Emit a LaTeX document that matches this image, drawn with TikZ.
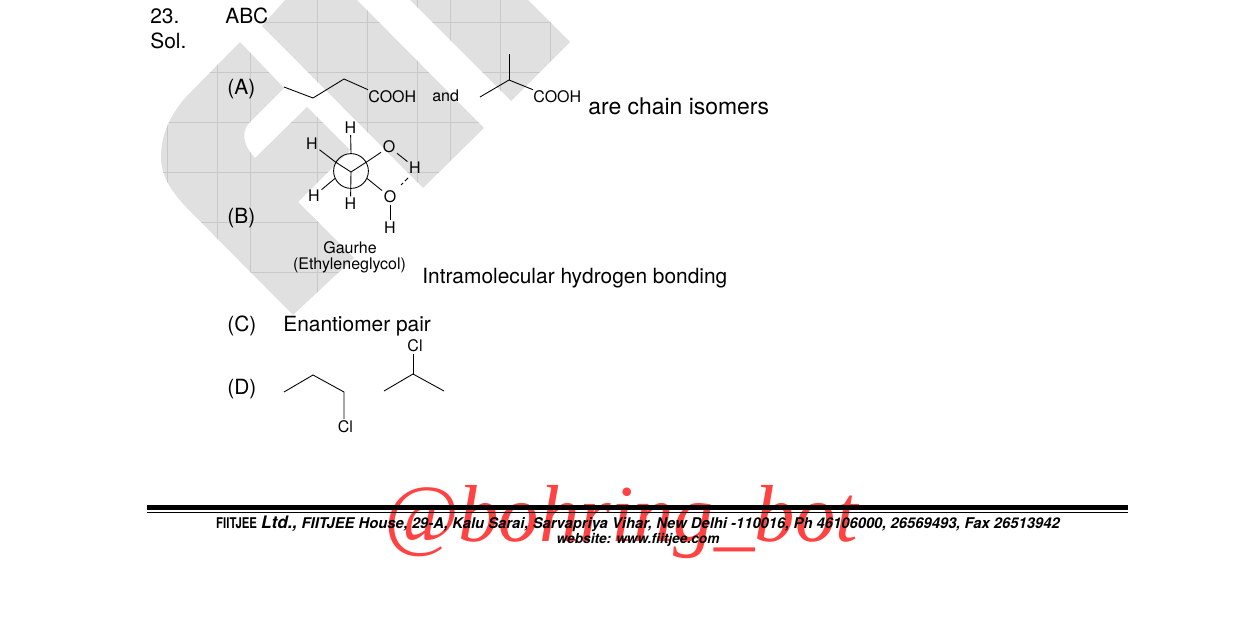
\documentclass[tikz,border=0pt]{standalone}
\usepackage{fontspec}
\setmainfont{TeX Gyre Heros}
\newfontfamily\markfont{Liberation Serif}
\usetikzlibrary{positioning}
\definecolor{markgray}{RGB}{224,224,224}
\definecolor{gridgray}{RGB}{200,200,200}
\definecolor{botred}{RGB}{255,66,66}
\tikzset{
    plain/.style={inner sep=0pt, font=\fontsize{11.9}{13}\selectfont},
    chem/.style={inner sep=0.8pt, font=\fontsize{9.1}{10}\selectfont},
    bond/.style={line width=0.5pt},
    foot/.style={inner sep=0pt, font=\fontsize{8.42}{9}\selectfont\bfseries\itshape},
}
\begin{document}
\begin{tikzpicture}[x=0.02cm,y=-0.02cm]
    \useasboundingbox (0,0) rectangle (1238,622);

    % Marca de agua
    \def\markshape{
        (240,42) -- (284,88) -- (250,122) .. controls (242,130) and (241,143) .. (255,158)
        -- (307,107) -- (350,150) -- (298,202)
        -- (354,258) -- (293,315) -- (186,207)
        .. controls (170,190) and (161,175) .. (161,157)
        .. controls (161,135) and (170,115) .. (186,97) -- cycle
        (285,0) -- (262,26) -- (423,188) -- (484,128) -- (357,0) -- cycle
        (410,0) -- (511,101) -- (570,42) -- (528,0) -- cycle
    }
    \fill[markgray] \markshape;
    \begin{scope}
        \clip \markshape;
        \foreach \x in {167,217,250,317,367,417,450,500,550} {
            \draw[gridgray, line width=0.3pt] (\x,0) -- (\x,330);
        }
        \foreach \y in {22,72,122,172,222,272} {
            \draw[gridgray, line width=0.3pt] (150,\y) -- (580,\y);
        }
    \end{scope}

    % Encabezado
    \node[plain, anchor=base west] (num) at (150,24) {23.};
    \node[plain, anchor=base west] (ans) at (225,24) {ABC};
    \node[plain, anchor=base west] (sol) at (150,49) {Sol.};
    \node[plain, anchor=base west] (opta) at (227,94) {(A)};
    \node[plain, anchor=base west] (optb) at (227,223) {(B)};
    \node[plain, anchor=base west] (optc) at (227,331) {(C)};
    \node[plain, anchor=base west] (optd) at (227,394) {(D)};

    % Isomeros de cadena
    \node[chem, inner sep=0pt, anchor=base west] (cooha) at (368,102) {COOH};
    \node[chem, inner sep=0pt, anchor=base west] (andw) at (432,101) {and};
    \node[chem, inner sep=0pt, anchor=base west] (coohb) at (533,102) {COOH};
    \node[plain, font=\fontsize{13.05}{14}\selectfont, anchor=base west] (chain) at (588,114) {are chain isomers};
    \coordinate (a1) at (284,87);
    \coordinate (a2) at (313,98);
    \coordinate (a3) at (344,79);
    \coordinate (b1) at (480,97);
    \coordinate (b2) at (509,80);
    \coordinate (b3) at (509,54);
    \draw[bond] (a1) -- (a2) -- (a3) -- (cooha.north west);
    \draw[bond] (b1) -- (b2) -- (coohb.north west);
    \draw[bond] (b2) -- (b3);

    % Proyeccion de Newman
    \coordinate (mid) at (351,172);
    \node[draw, circle, line width=0.5pt, minimum size=19.8pt, inner sep=0pt] (ring) at (351,171) {};
    \node[chem] (ht) at (350.5,127.5) {H};
    \node[chem] (hl) at (312,144) {H};
    \node[chem] (hd) at (314,196) {H};
    \node[chem] (hb) at (350.5,204) {H};
    \node[chem] (ou) at (389,147) {O};
    \node[chem] (hu) at (415,167.5) {H};
    \node[chem] (od) at (390,197) {O};
    \node[chem] (hr) at (390,227.5) {H};
    \coordinate (dash1) at (408,178);
    \coordinate (dash2) at (401,185);
    \draw[bond] (ht) -- (ring.north);
    \draw[bond] (mid) -- (hb);
    \draw[bond] (hl) -- (ring.150);
    \draw[bond] (hd) -- (ring.205);
    \draw[bond] (mid) -- (ring.30);
    \draw[bond] (mid) -- (ring.150);
    \draw[bond] (ring.30) -- (ou);
    \draw[bond] (ring.-25) -- (od);
    \draw[bond] (ou) -- (hu);
    \draw[bond] (od) -- (hr);
    \draw[bond, dash pattern=on 2.5pt off 1.5pt] (dash1) -- (dash2);

    \node[chem] (gauche) at (350,248) {Gaurhe};
    \node[chem] (glycol) at (349.5,265.5) {(Ethyleneglycol)};
    \node[plain, anchor=base west] (hbond) at (422,283) {Intramolecular hydrogen bonding};
    \node[plain, anchor=base west] (pair) at (283,331) {Enantiomer pair};

    % Cloruros
    \node[chem] (cla) at (345.5,427) {Cl};
    \node[chem] (clb) at (415,346) {Cl};
    \coordinate (c1) at (284,392);
    \coordinate (c2) at (313,375);
    \coordinate (c3) at (344,392);
    \coordinate (d1) at (384,391);
    \coordinate (d2) at (413,374);
    \coordinate (d3) at (444,391);
    \draw[bond] (c1) -- (c2) -- (c3) -- (c3 |- cla.north);
    \draw[bond] (d1) -- (d2) -- (d3);
    \draw[bond] (d2) -- (d2 |- clb.south);

    % Pie de pagina
    \node[inner sep=0pt, text=botred, font=\fontsize{46}{50}\selectfont\markfont\itshape] (bot) at (621,522) {@bohring\_bot};
    \fill[black] (147,505) rectangle (1128,510);
    \fill[black] (147,512) rectangle (1128,513);
    \node[foot] (addr) at (638,524) {\textup{\scalebox{.77}[1]{FIITJEE}} {\fontsize{9.8}{9}\selectfont Ltd.,} FIITJEE House, 29-A, Kalu Sarai, Sarvapriya Vihar, New Delhi -110016, Ph 46106000, 26569493, Fax 26513942};
    \node[foot, font=\fontsize{7.8}{9}\selectfont\bfseries\itshape] (web) at (638,540) {website: www.fiitjee.com};
\end{tikzpicture}
\end{document}
